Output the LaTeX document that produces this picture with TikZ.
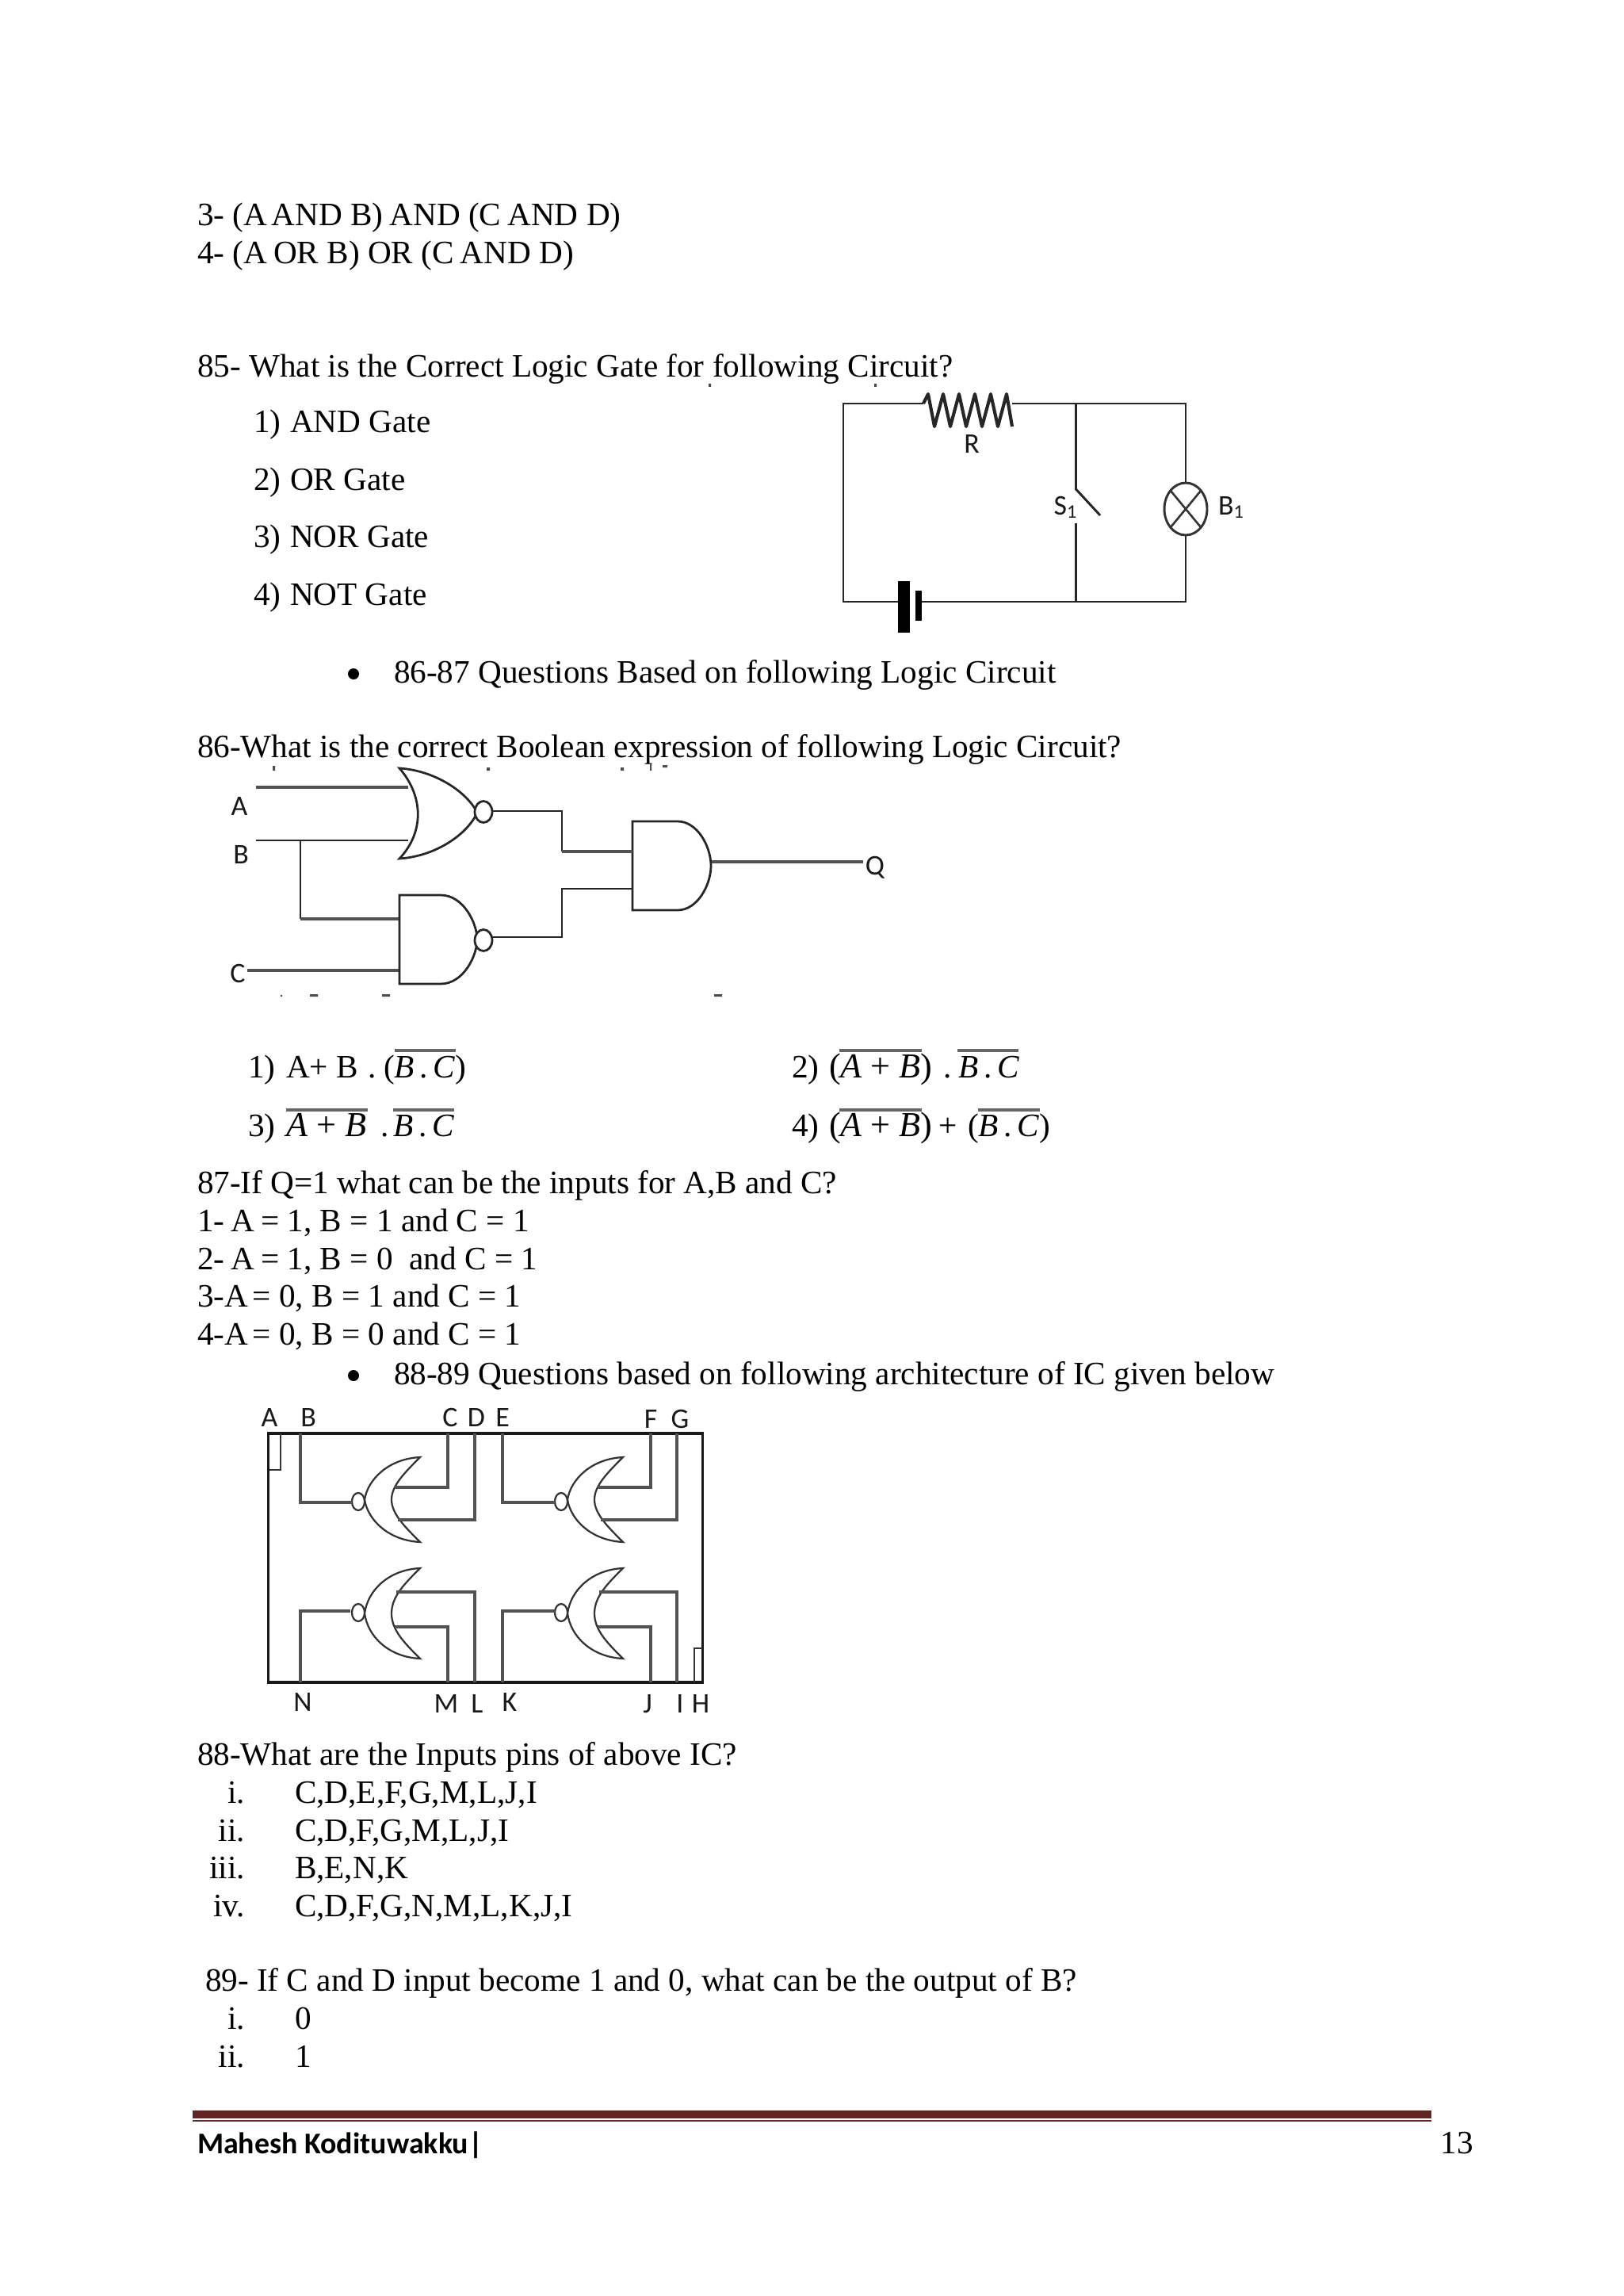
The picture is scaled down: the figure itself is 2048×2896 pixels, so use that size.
\documentclass[tikz,border=0pt]{standalone}
\usepackage{fontspec}
\setmainfont{Liberation Serif}
\newfontfamily\labelfont{Carlito}
\usetikzlibrary{calc}
\definecolor{rulered}{HTML}{622423}
\newcounter{tn}
\newcommand\ka{\kern-.055em\relax}
\tikzset{
  doc/.style={anchor=base west,inner sep=0pt,outer sep=0pt,font=\fontsize{11.95pt}{14pt}\selectfont},
  docr/.style={doc,anchor=base east},
  big/.style={doc,font=\fontsize{12.8pt}{14pt}\selectfont},
  lab/.style={anchor=center,inner sep=0pt,outer sep=0pt,font=\labelfont\fontsize{10.4pt}{12pt}\selectfont,text=black!90},
  wire/.style={line width=1.1pt,draw=black!68,line join=miter},
  thin wire/.style={line width=.85pt,draw=black!85,line join=miter},
  gate/.style={line width=.8pt,draw=black!85},
  fine/.style={line width=.65pt,draw=black!80},
  ovl/.style={line width=1pt,draw=black!60},
  speck/.style={fill=black!70,draw=none}
}
% text node with an automatic name
\newcommand\dt[3][doc]{\stepcounter{tn}\node[#1] (t\arabic{tn}) at (#2) {#3};}
% NOR gate in the IC, facing left
\newcommand\icnor[4]{% #1 tip x, #2 top y, #3 bottom y, #4 bubble y
  \draw[fine,fill=white] (#1,#2) .. controls ({#1-40},{#2+2}) and ({#1-66},{#2+28}) .. ({#1-70},{(#2+#3)/2})
     .. controls ({#1-66},{#3-28}) and ({#1-40},{#3-2}) .. (#1,#3)
     .. controls ({#1-20},{#3-20}) and ({#1-36},{#3-36}) .. ({#1-36},{(#2+#3)/2})
     .. controls ({#1-36},{#2+36}) and ({#1-20},{#2+20}) .. cycle;
  \draw[fine,fill=white] ({#1-78},#4) ellipse [x radius=8,y radius=11];
}
\begin{document}
\begin{tikzpicture}[x=0.29pt,y=-0.29pt]
\useasboundingbox (0,0) rectangle (2048,2896);
\fill[white] (0,0) rectangle (2048,2896);

% ---- body text
\dt{249,285}{3- (A\ka{} \ka AND B) \ka AND (C \ka AND D)}
\dt{249,333}{4- (A\ka{} OR B) OR (C \ka AND D)}
\dt{249,476}{85- What is the Correct Logic Gate for following Circuit?}
\dt{320,546}{1)}\dt{366,546}{AND Gate}
\dt{320,618}{2)}\dt{366,618}{OR Gate}
\dt{320,691}{3)}\dt{366,691}{NOR Gate}
\dt{320,763}{4)}\dt{366,763}{NOT Gate}
\fill (446,850) circle (7);
\dt{497,861}{86-87 Questions Based on following Logic Circuit}
\dt{249,955.5}{86-What is the correct Boolean expression of following Logic Circuit?}

% ---- circuit of question 85
\draw[thin wire] (1165,509) -- (1064,509) -- (1064,759) -- (1140,759);
\draw[thin wire] (1277,509) -- (1496,509) -- (1496,609);
\draw[thin wire] (1496,675) -- (1496,759) -- (1158,759);
\draw[thin wire] (1357.5,509) -- (1357.5,617) -- (1388,650);
\draw[thin wire] (1357.5,660) -- (1357.5,759);
\draw[line width=1.2pt,draw=black!85,line join=round] (1165,509) -- (1171,497) -- (1179,538) -- (1190,497) -- (1199,538) -- (1210,497) -- (1219,538) -- (1230,497) -- (1239,538) -- (1250,497) -- (1259,538) -- (1270,497) -- (1277,538);
\draw[fine,line width=.85pt] (1496,642) ellipse [x radius=27,y radius=33];
\draw[fine,line width=.75pt] (1477,619) -- (1515,665) (1515,619) -- (1477,665);
\fill (1132.5,733) rectangle (1147.5,798);
\fill (1154.5,745) rectangle (1162.5,783);
\dt[lab]{1226,560}{R}
\dt[lab]{1344,640}{S\raisebox{-.25ex}{\fontsize{7pt}{8pt}\selectfont 1}}
\dt[lab]{1553,640}{B\raisebox{-.25ex}{\fontsize{7pt}{8pt}\selectfont 1}}
\fill[speck] (894,484) rectangle (897,488) (1103,484) rectangle (1106,488);

% ---- logic circuit of questions 86-87
\draw[wire] (323,993) -- (515,993);
\draw[thin wire] (323,1060) -- (515,1060);
\draw[thin wire] (379,1060) -- (379,1159);
\draw[wire] (379,1159) -- (504,1159);
\draw[wire] (312,1224) -- (504,1224);
\draw[gate,fill=white] (504,969) .. controls (550,972) and (590,1000) .. (602,1025) .. controls (590,1052) and (550,1080) .. (504,1083) .. controls (535,1050) and (535,1005) .. cycle;
\draw[gate,fill=white] (610,1024) ellipse [x radius=11,y radius=13.5];
\draw[gate,fill=white] (504,1129) -- (556,1129) .. controls (585,1129) and (602,1165) .. (602,1185) .. controls (602,1205) and (585,1241) .. (556,1241) -- (504,1241) -- cycle;
\draw[gate,fill=white] (610,1186) ellipse [x radius=11,y radius=13.5];
\draw[gate,fill=white] (798,1036) -- (855,1036) .. controls (880,1036) and (897,1068) .. (897,1092) .. controls (897,1116) and (880,1148) .. (855,1148) -- (798,1148) -- cycle;
\draw[thin wire] (621,1023) -- (709,1023) -- (709,1074);
\draw[wire] (709,1074) -- (798,1074);
\draw[thin wire] (621,1182) -- (709,1182) -- (709,1121) -- (798,1121);
\draw[wire,line width=1.3pt] (898,1087) -- (1089,1087);
\dt[lab]{302,1017}{A}
\dt[lab]{304,1078}{B}
\dt[lab]{300,1228}{C}
\dt[lab]{1104,1094}{Q}
\fill[speck] (344,966) rectangle (347,972) (614,968) rectangle (618,972) (783,968) rectangle (787,972) (820,964) rectangle (822,972) (836,965) rectangle (842,968)
  (354,1255) rectangle (356,1257) (391,1254) rectangle (401,1257) (482,1254) rectangle (492,1257) (901,1254) rectangle (911,1257);

% ---- answer options of question 86
\dt{313,1359}{1)}
\dt{361,1359}{A+ B}
\dt{464,1359}{.}
\dt{484,1359}{(\textit{B}\,.\,\textit{C})}
\draw[ovl] (497.5,1325) -- (575,1325);
\dt{999,1359}{2)}
\dt[big]{1046,1359}{(\textit{A} + \textit{B})}
\dt{1190,1359}{.}
\dt{1209,1359}{\textit{B}\,.\,\textit{C}}
\draw[ovl] (1059,1325) -- (1163,1325) (1208,1325) -- (1285,1325);
\dt{313,1433}{3)}
\dt[big]{361,1433}{\textit{A} + \textit{B}}
\dt{480,1433}{.}
\dt{496,1433}{\textit{B}\,.\,\textit{C}}
\draw[ovl] (361,1400) -- (464,1400) (496,1400) -- (573,1400);
\dt{999,1433}{4)}
\dt[big]{1046,1433}{(\textit{A} + \textit{B})}
\dt{1184,1433}{+}
\dt{1221,1433}{(\textit{B}\,.\,\textit{C})}
\draw[ovl] (1059,1400) -- (1163,1400) (1234,1400) -- (1312,1400);

\dt{249,1505}{87-If Q=1 what can be the inputs for A,B and C?}
\dt{249,1553}{1- \ka A\ka{} = 1, B = 1 and C = 1}
\dt{249,1601}{2- \ka A\ka{} = 1, B = 0\ \ and C = 1}
\dt{249,1648}{3-A\ka\ka{} = 0, B = 1 and C = 1}
\dt{249,1696}{4-A\ka\ka{} = 0, B = 0 and C = 1}
\fill (446,1735) circle (7);
\dt{497,1746}{88-89 Questions based on following architecture of IC given below}

% ---- IC of questions 88-89
\draw[line width=.9pt,draw=black!90] (338.5,1808) rectangle (886.5,2122);
\draw[fine,line width=.7pt] (340,1854) -- (354,1854) -- (354,1808);
\draw[fine,line width=.7pt] (876,2122) -- (876,2079) -- (886,2079);
\icnor{530}{1838}{1945}{1894}
\icnor{786}{1838}{1945}{1894}
\icnor{530}{1978}{2092}{2034}
\icnor{786}{1978}{2092}{2034}
% wires: top half
\draw[wire] (379,1808) -- (379,1895) -- (444,1895);
\draw[wire] (565,1808) -- (565,1876) -- (498,1876);
\draw[wire] (599,1808) -- (599,1917) -- (502,1917);
\draw[wire] (634,1808) -- (634,1895) -- (700,1895);
\draw[wire] (821,1808) -- (821,1876) -- (754,1876);
\draw[wire] (854,1808) -- (854,1917) -- (758,1917);
% wires: bottom half
\draw[wire] (379,2122) -- (379,2032) -- (442,2032);
\draw[wire] (565,2122) -- (565,2052) -- (498,2052);
\draw[wire] (599,2122) -- (599,2008) -- (500,2008);
\draw[wire] (634,2122) -- (634,2032) -- (700,2032);
\draw[wire] (821,2122) -- (821,2052) -- (754,2052);
\draw[wire] (854,2122) -- (854,2008) -- (756,2008);
\dt[lab]{340,1788}{A}\dt[lab]{389,1788}{B}\dt[lab]{568,1788}{C}\dt[lab]{601,1788}{D}\dt[lab]{634,1788}{E}\dt[lab]{821,1790}{F}\dt[lab]{858,1790}{G}
\dt[lab]{382,2147}{N}\dt[lab]{563,2149}{M}\dt[lab]{602,2149}{L}\dt[lab]{643,2147}{K}\dt[lab]{817,2149}{J}\dt[lab]{858,2149}{I}\dt[lab]{884,2149}{H}

% ---- questions 88-89
\dt{249,2226}{88-What are the Inputs pins of above IC?}
\dt[docr]{309,2274}{i.}\dt{372,2274}{C,D,E,F,G,M,L,J,I}
\dt[docr]{309,2322}{ii.}\dt{372,2322}{C,D,F,G,M,L,J,I}
\dt[docr]{309,2369}{iii.}\dt{372,2369}{B,E,N,K}
\dt[docr]{309,2417}{iv.}\dt{372,2417}{C,D,F,G,N,M,L,K,J,I}
\dt{259,2511}{89- If C and D input become 1 and 0, what can be the output of B?}
\dt[docr]{309,2559}{i.}\dt{372,2559}{0}
\dt[docr]{309,2607}{ii.}\dt{372,2607}{1}

% ---- footer
\fill[rulered] (243,2662) rectangle (1806,2672);
\fill[rulered] (243,2674) rectangle (1806,2676);
\dt{249,2716}{\labelfont\bfseries\fontsize{11pt}{13pt}\selectfont Mahesh Kodituwakku|}
\dt[docr]{1859,2716}{13}
\end{tikzpicture}
\end{document}
